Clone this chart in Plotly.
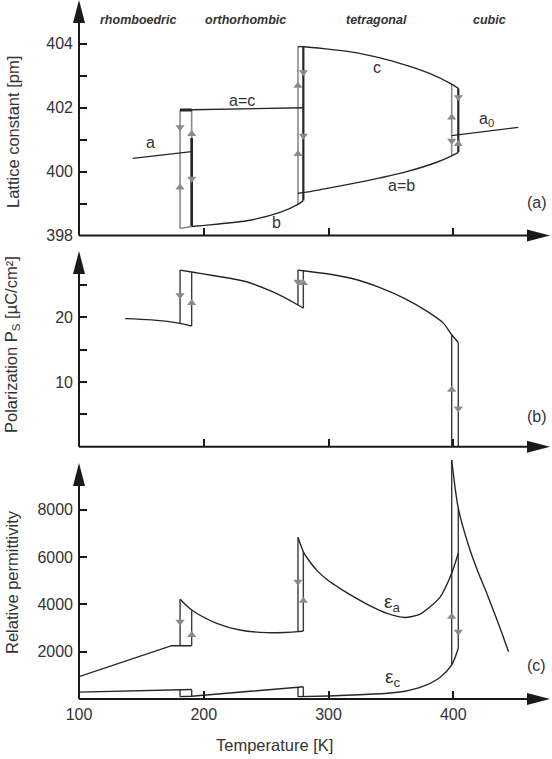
import plotly.graph_objects as go

# ---------------- data ----------------
# Panel (a): lattice constant [pm] vs temperature [K]
A_RHOMB_T = [143, 190.3]
A_RHOMB_L = [400.41, 400.62]
AC_ORTH_T = [181, 190.3, 279.8]
AC_ORTH_L = [401.92, 401.93, 401.99]
B_ORTH_T = [190.3, 198.3, 234.4, 261.1, 275.8, 279.8]
B_ORTH_L = [398.28, 398.31, 398.46, 398.72, 398.98, 399.09]
C_TET_T = [275.5, 279.8, 318.9, 341.2, 361.2, 380, 398.7, 404]
C_TET_L = [403.9, 403.9, 403.73, 403.55, 403.33, 403.08, 402.73, 402.6]
AB_TET_T = [275.5, 279.8, 300, 318.9, 341.2, 361.2, 386.7, 398.7, 404]
AB_TET_L = [399.32, 399.34, 399.48, 399.62, 399.8, 399.98, 400.29, 400.49, 400.6]
A0_CUB_T = [398.7, 452.1]
A0_CUB_L = [401.12, 401.38]
A_VERT_T = [181, 190.3, 275.5, 279.8, 398.7, 404]
A_VERT_TOP = [401.92, 401.92, 403.9, 403.9, 402.73, 402.6]
A_VERT_BOT = [398.22, 398.28, 398.98, 399.09, 400.49, 400.6]
A_VERT_DARK = [False, False, False, True, False, True]
A_HEAT_BLACK_T = [190.3, 190.3]
A_HEAT_BLACK_L = [401.05, 398.28]
A_TOPBAR_T = [181, 190.3]
A_TOPBAR_L = [401.92, 401.92]
A_BOTBAR_T = [181, 190.3]
A_BOTBAR_L = [398.22, 398.28]
A_ARROW_T = [181, 181, 190.3, 190.3, 275.5, 275.5, 279.8, 279.8, 398.7, 398.7, 404, 404]
A_ARROW_L = [401.38, 399.5, 401.17, 399.77, 402.68, 400.55, 403.1, 401.12, 401.69, 400.96, 402.32, 400.86]
A_ARROW_DIR = ["down", "up", "up", "down", "up", "up", "down", "down", "up", "down", "down", "up"]

# Panel (b): spontaneous polarization [uC/cm2]
P_RHOMB_T = [137, 158, 181, 190.3]
P_RHOMB = [19.8, 19.6, 19.07, 18.65]
P_ORTH_T = [181, 190.3, 206, 234.2, 256.8, 275.5, 279.8]
P_ORTH = [27.3, 27.0, 26.5, 25.5, 23.8, 21.9, 21.4]
P_TET_T = [275.5, 279.8, 300, 318.9, 341.2, 361.2, 380, 392, 398.7, 404]
P_TET = [27.3, 27.2, 26.7, 26.0, 24.6, 22.9, 20.8, 19.1, 17.3, 16.1]
P_VERT_T = [181, 190.3, 275.5, 279.8, 398.7, 404]
P_VERT_TOP = [27.3, 26.95, 27.3, 27.2, 17.3, 16.1]
P_VERT_BOT = [19.07, 18.65, 21.9, 21.4, 0, 0]
P_ARROW_T = [181, 190.3, 275.5, 279.8, 398.7, 404]
P_ARROW = [23.4, 22.2, 25.5, 25.3, 8.8, 5.9]
P_ARROW_DIR = ["down", "up", "down", "up", "up", "down"]

# Panel (c): relative permittivity
EA_RHOMB_T = [100, 174.3, 190.3]
EA_RHOMB = [943, 2255, 2255]
EA_ORTH_T = [181, 190.3, 210.4, 229, 250.4, 265, 275.5, 279.8]
EA_ORTH = [4217, 3765, 3202, 2919, 2806, 2815, 2848, 2876]
EA_TET_T = [275.5, 279.8, 284, 291, 300, 310, 320, 333, 347, 361, 373, 389.3, 398.7, 404]
EA_TET = [6840, 6231, 5880, 5420, 5000, 4650, 4330, 3950, 3620, 3450, 3580, 4300, 5317, 6163]
EA_CUB_T = [398.7, 404, 413.4, 420, 426.8, 435, 444.3]
EA_CUB = [10110, 8066, 6303, 5350, 4471, 3350, 2000]
EC_RHOMB_T = [100, 190.3]
EC_RHOMB = [290, 400]
EC_ORTH_T = [181, 190.3, 275.5, 279.8]
EC_ORTH = [100, 115, 500, 520]
EC_TET_T = [275.5, 300, 318.9, 347.1, 361.2, 375, 389.3, 398.7, 404]
EC_TET = [100, 130, 169, 241, 330, 520, 910, 1440, 2150]
E_VERT_T = [181, 190.3, 181, 190.3, 275.5, 279.8, 275.5, 279.8, 398.7, 404]
E_VERT_TOP = [4217, 3765, 390, 400, 6840, 6231, 500, 520, 10110, 8066]
E_VERT_BOT = [2255, 2255, 100, 115, 2848, 2876, 100, 100, 1440, 2150]
E_ARROW_T = [181, 190.3, 275.5, 279.8, 398.7, 404]
E_ARROW = [3270, 2707, 4962, 4158, 3481, 2847]
E_ARROW_DIR = ["down", "up", "down", "up", "up", "down"]

X_TICKS = [100, 200, 300, 400]
A_TICKS = [398, 399, 400, 401, 402, 403, 404]
A_TICK_TEXT = ["398", "", "400", "", "402", "", "404"]
P_TICKS = [5, 10, 15, 20, 25]
P_TICK_TEXT = ["", "10", "", "20", ""]
E_TICKS = [2000, 4000, 6000, 8000]
E_TICK_TEXT = ["2000", "4000", "6000", "8000"]
PHASES = ["rhomboedric", "orthorhombic", "tetragonal", "cubic"]
PHASE_T = [147.5, 233.5, 338.7, 428.9]

# ---------------- layout geometry (pixels) ----------------
W, H = 552, 759
ML, MR, MT, MB = 79, 2, 0, 60
PW = W - ML - MR
PH = H - MT - MB


def pxx(x):
    return (x - ML) / PW


def pxy(y):
    return (PH - (y - MT)) / PH


A_TOP, A_BOT, A_TIP = 0, 235.5, 0
B_TOP, B_BOT, B_TIP = 251, 446.7, 251
C_TOP, C_BOT, C_TIP = 455, 699, 463
X_TIP = 550
T_RANGE = [100, 100 + (X_TIP - ML) / 1.2477]
A_RANGE = [398, 398 + (A_BOT - A_TOP) / 32.0]
B_RANGE = [0, (B_BOT - B_TOP) / 6.47]
C_RANGE = [0, (C_BOT - C_TOP) * 42.3]

DARK = "#262626"
GRAY = "#8a8a8a"
TXT = "#333333"
FONT = "Liberation Sans, Arial, sans-serif"

fig = go.Figure()


def line(xs, ys, ax, color=DARK, width=1.4, shape="linear", smooth=None):
    ln = dict(color=color, width=width, shape=shape)
    if smooth is not None:
        ln["smoothing"] = smooth
    fig.add_trace(go.Scatter(x=xs, y=ys, mode="lines", line=ln, xaxis=ax[0], yaxis=ax[1],
                             hoverinfo="skip", showlegend=False))


def verticals(ts, tops, bots, ax, color, width):
    xs, ys = [], []
    for t, a, b in zip(ts, tops, bots):
        xs += [t, t, None]
        ys += [a, b, None]
    line(xs, ys, ax, color=color, width=width)


def arrows(ts, vs, dirs, ax):
    fig.add_trace(go.Scatter(
        x=ts, y=vs, mode="markers", xaxis=ax[0], yaxis=ax[1], hoverinfo="skip", showlegend=False,
        marker=dict(symbol=["triangle-up" if d == "up" else "triangle-down" for d in dirs],
                    size=8, color=GRAY, line=dict(width=0))))


AXA, AXB, AXC = ("x", "y"), ("x2", "y2"), ("x3", "y3")

# ---- panel (a)
verticals([t for t, d in zip(A_VERT_T, A_VERT_DARK) if not d],
          [v for v, d in zip(A_VERT_TOP, A_VERT_DARK) if not d],
          [v for v, d in zip(A_VERT_BOT, A_VERT_DARK) if not d], AXA, GRAY, 1.6)
verticals([t for t, d in zip(A_VERT_T, A_VERT_DARK) if d],
          [v for v, d in zip(A_VERT_TOP, A_VERT_DARK) if d],
          [v for v, d in zip(A_VERT_BOT, A_VERT_DARK) if d], AXA, DARK, 2.2)
line(A_HEAT_BLACK_T, A_HEAT_BLACK_L, AXA, DARK, 2.6)
line(A_BOTBAR_T, A_BOTBAR_L, AXA, GRAY, 1.6)
line(A_RHOMB_T, A_RHOMB_L, AXA)
line(AC_ORTH_T, AC_ORTH_L, AXA)
line(A_TOPBAR_T, A_TOPBAR_L, AXA, DARK, 3)
line(B_ORTH_T, B_ORTH_L, AXA, shape="spline", smooth=0.8)
line(C_TET_T, C_TET_L, AXA, shape="spline", smooth=0.8)
line(AB_TET_T, AB_TET_L, AXA, shape="spline", smooth=0.8)
line(A0_CUB_T, A0_CUB_L, AXA)
arrows(A_ARROW_T, A_ARROW_L, A_ARROW_DIR, AXA)

# ---- panel (b)
verticals(P_VERT_T, P_VERT_TOP, P_VERT_BOT, AXB, "#3a3a3a", 1.4)
line(P_RHOMB_T, P_RHOMB, AXB, shape="spline", smooth=0.8)
line(P_ORTH_T, P_ORTH, AXB, shape="spline", smooth=0.8)
line(P_TET_T, P_TET, AXB, shape="spline", smooth=0.8)
arrows(P_ARROW_T, P_ARROW, P_ARROW_DIR, AXB)

# ---- panel (c)
verticals(E_VERT_T, E_VERT_TOP, E_VERT_BOT, AXC, "#3a3a3a", 1.4)
line(EA_RHOMB_T, EA_RHOMB, AXC)
line(EA_ORTH_T, EA_ORTH, AXC, shape="spline", smooth=0.8)
line(EA_TET_T, EA_TET, AXC, shape="spline", smooth=0.6)
line(EA_CUB_T, EA_CUB, AXC, shape="spline", smooth=0.7)
line(EC_RHOMB_T, EC_RHOMB, AXC)
line(EC_ORTH_T, EC_ORTH, AXC)
line(EC_TET_T, EC_TET, AXC, shape="spline", smooth=0.8)
arrows(E_ARROW_T, E_ARROW, E_ARROW_DIR, AXC)

# ---------------- axes ----------------
tickfont = dict(family=FONT, size=16, color=TXT)
common_x = dict(range=T_RANGE, domain=[0, 1], showgrid=False, zeroline=False, showline=False,
                ticks="inside", ticklen=8, tickwidth=1.6, tickcolor="#1a1a1a",
                tickfont=tickfont, automargin=False, fixedrange=True)
common_y = dict(showgrid=False, zeroline=False, showline=False, ticks="inside", ticklen=8,
                tickwidth=1.6, tickcolor="#1a1a1a", tickfont=tickfont, automargin=False,
                ticklabelstandoff=5, fixedrange=True)

layout = dict(
    width=W, height=H, margin=dict(l=ML, r=MR, t=MT, b=MB, pad=0, autoexpand=False),
    paper_bgcolor="white", plot_bgcolor="white", showlegend=False,
    font=dict(family=FONT, color=TXT, size=16),
    xaxis=dict(common_x, anchor="y", tickvals=X_TICKS[1:], showticklabels=False),
    xaxis2=dict(common_x, anchor="y2", tickvals=X_TICKS[1:], showticklabels=False),
    xaxis3=dict(common_x, anchor="y3", tickvals=X_TICKS, ticktext=[str(v) for v in X_TICKS],
                ticklabelstandoff=4),
    yaxis=dict(common_y, anchor="x", domain=[pxy(A_BOT), pxy(A_TOP)], range=A_RANGE,
               tickvals=A_TICKS, ticktext=A_TICK_TEXT),
    yaxis2=dict(common_y, anchor="x2", domain=[pxy(B_BOT), pxy(B_TOP)], range=B_RANGE,
                tickvals=P_TICKS, ticktext=P_TICK_TEXT),
    yaxis3=dict(common_y, anchor="x3", domain=[pxy(C_BOT), pxy(C_TOP)], range=C_RANGE,
                tickvals=E_TICKS, ticktext=E_TICK_TEXT),
)
fig.update_layout(**layout)

# axis lines with filled arrowheads (decoration, in paper coordinates)
AX_COL = "#1a1a1a"
shapes = []
for bot, tip in [(A_BOT, A_TIP), (B_BOT, B_TIP), (C_BOT, C_TIP)]:
    shapes.append(dict(type="line", xref="paper", yref="paper", x0=pxx(ML), x1=pxx(X_TIP - 20),
                       y0=pxy(bot), y1=pxy(bot), line=dict(color=AX_COL, width=2)))
    shapes.append(dict(type="path", xref="paper", yref="paper", fillcolor=AX_COL, line=dict(width=0),
                       path=f"M {pxx(X_TIP - 23)} {pxy(bot - 6)} L {pxx(X_TIP)} {pxy(bot)} "
                            f"L {pxx(X_TIP - 23)} {pxy(bot + 6)} Z"))
    shapes.append(dict(type="line", xref="paper", yref="paper", x0=pxx(ML), x1=pxx(ML),
                       y0=pxy(bot), y1=pxy(tip + 20), line=dict(color=AX_COL, width=2)))
    shapes.append(dict(type="path", xref="paper", yref="paper", fillcolor=AX_COL, line=dict(width=0),
                       path=f"M {pxx(ML - 6)} {pxy(tip + 23)} L {pxx(ML)} {pxy(tip)} "
                            f"L {pxx(ML + 6)} {pxy(tip + 23)} Z"))
fig.update_layout(shapes=shapes)

ann = []
lab = dict(family=FONT, size=16, color=TXT)
C = dict(xanchor="center", yanchor="middle", showarrow=False)
# phase names
for name, t in zip(PHASES, PHASE_T):
    ann.append(dict(C, x=t, y=pxy(20), xref="x", yref="paper", text=f"<b><i>{name}</i></b>",
                    font=dict(family=FONT, size=12.5, color=TXT)))
# curve labels, panel (a)
for txt, t, v in [("a", 157.4, 400.91), ("a=c", 230.4, 402.23), ("c", 338.7, 403.26),
                  ("a<sub>0</sub>", 426.5, 401.62), ("a=b", 358.6, 399.56), ("b", 258.4, 398.41)]:
    ann.append(dict(C, x=t, y=v, xref="x", yref="y", text=txt, font=lab))
# curve labels, panel (c)
for txt, t, v in [("ε<sub>a</sub>", 351, 4050), ("ε<sub>c</sub>", 351, 900)]:
    ann.append(dict(C, x=t, y=v, xref="x3", yref="y3", text=txt,
                    font=dict(family=FONT, size=19, color=TXT)))
# panel tags
for txt, yp in [("(a)", 202), ("(b)", 416.7), ("(c)", 665)]:
    ann.append(dict(C, x=pxx(536.5), y=pxy(yp), xref="paper", yref="paper", text=txt, font=lab))
# axis titles
ttl = dict(family=FONT, size=16.5, color=TXT)
ann.append(dict(C, x=pxx(13), y=pxy(132), xref="paper", yref="paper", text="Lattice constant [pm]",
                textangle=-90, font=ttl))
ann.append(dict(C, x=pxx(12), y=pxy(345), xref="paper", yref="paper",
                text="Polarization P<sub>S</sub> [µC/cm²]", textangle=-90, font=ttl))
ann.append(dict(C, x=pxx(12), y=pxy(582), xref="paper", yref="paper", text="Relative permittivity",
                textangle=-90, font=ttl))
ann.append(dict(C, x=pxx(274), y=pxy(745), xref="paper", yref="paper", text="Temperature [K]",
                font=ttl))
fig.update_layout(annotations=ann)

fig.write_html("out.html", config={"displayModeBar": False})
